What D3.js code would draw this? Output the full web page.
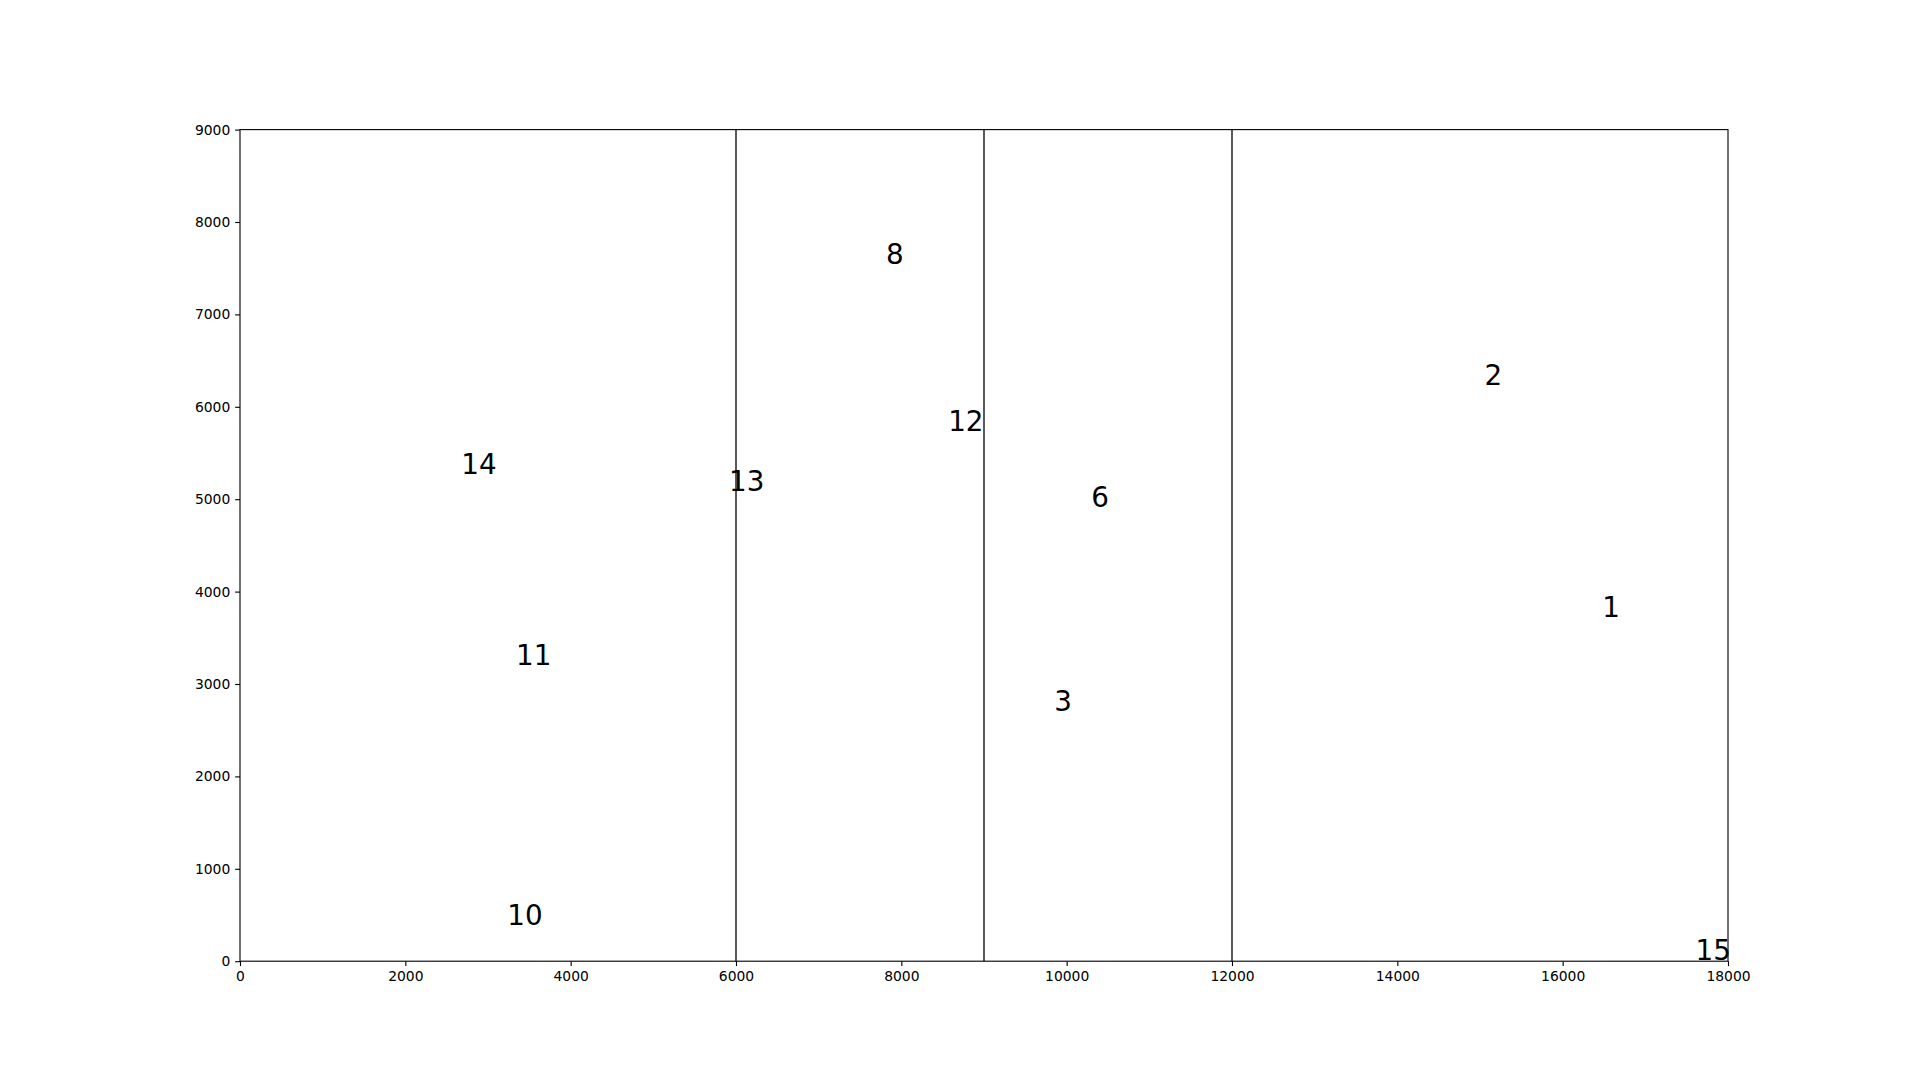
<!DOCTYPE html>
<html>
<head>
<meta charset="utf-8">
<script src="https://d3js.org/d3.v7.min.js"></script>
<style>
  html, body { margin: 0; padding: 0; background: #fff; }
  svg { display: block; }
  text { font-family: "DejaVu Sans", sans-serif; }
</style>
</head>
<body>
<script>
// ---- data ----
const labels = ["14", "13", "8", "12", "6", "3", "2", "1", "11", "10", "15"];
const labelX = [2890, 6130, 7920, 8780, 10405, 9957, 15160, 16585, 3553, 3448, 17822];
const labelY = [5395, 5219, 7668, 5868, 5045, 2834, 6363, 3855, 3332, 518, 140];
const dividers = [6000, 9000, 12000];
const xTicks = [0, 2000, 4000, 6000, 8000, 10000, 12000, 14000, 16000, 18000];
const yTicks = [0, 1000, 2000, 3000, 4000, 5000, 6000, 7000, 8000, 9000];
const xDomain = [0, 18000];
const yDomain = [0, 9000];

// ---- layout ----
const W = 1920, H = 1080;
const plotL = 240, plotR = 1728, plotT = 129.6, plotB = 961.2;
const pt = 100 / 72;

const svg = d3.select("body").append("svg").attr("width", W).attr("height", H);
svg.append("rect").attr("width", W).attr("height", H).attr("fill", "#fff");

const x = d3.scaleLinear().domain(xDomain).range([plotL, plotR]);
const y = d3.scaleLinear().domain(yDomain).range([plotB, plotT]);

// divider lines
svg.append("g").selectAll("line").data(dividers).join("line")
  .attr("x1", d => x(d)).attr("x2", d => x(d))
  .attr("y1", y(yDomain[0])).attr("y2", y(yDomain[1]))
  .attr("stroke", "#000").attr("stroke-width", 1.3);

// labels
const fs = 20 * pt;
svg.append("g").selectAll("text").data(labels).join("text")
  .attr("x", (d, i) => x(labelX[i]))
  .attr("y", (d, i) => y(labelY[i]) + 0.42 * fs)
  .attr("text-anchor", "middle")
  .attr("font-size", fs)
  .attr("fill", "#000")
  .text(d => d);

// axes
const tickLen = 3.5 * pt, pad = 3.5 * pt, tfs = 10 * pt;
const xAxis = d3.axisBottom(x).tickValues(xTicks).tickFormat(d3.format("d"))
  .tickSize(tickLen).tickPadding(pad);
const yAxis = d3.axisLeft(y).tickValues(yTicks).tickFormat(d3.format("d"))
  .tickSize(tickLen).tickPadding(pad);

const gx = svg.append("g").attr("transform", `translate(0,${plotB})`).call(xAxis);
const gy = svg.append("g").attr("transform", `translate(${plotL},0)`).call(yAxis);
[gx, gy].forEach(g => {
  g.select(".domain").remove();
  g.selectAll(".tick line").attr("stroke", "#000").attr("stroke-width", 0.8 * pt);
  g.selectAll(".tick text").attr("font-size", tfs).attr("fill", "#000")
    .attr("font-family", "DejaVu Sans, sans-serif");
});

// frame
svg.append("rect")
  .attr("x", plotL).attr("y", plotT)
  .attr("width", plotR - plotL).attr("height", plotB - plotT)
  .attr("fill", "none").attr("stroke", "#000").attr("stroke-width", 0.8 * pt);
</script>
</body>
</html>
